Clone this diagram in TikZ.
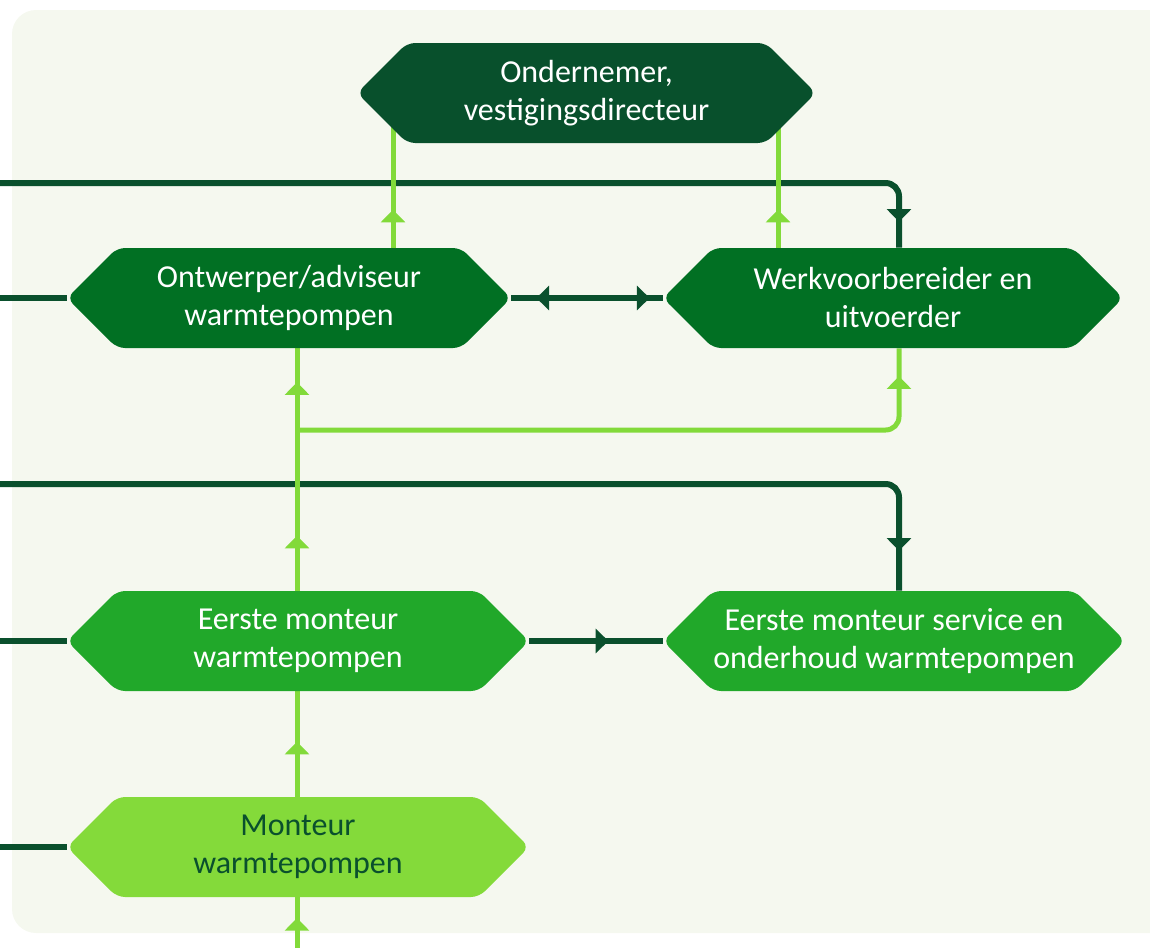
\documentclass[tikz,border=0pt]{standalone}
\usepackage{fontspec}
\setmainfont{Carlito}
\usetikzlibrary{shapes.symbols,arrows.meta,decorations.markings}

\definecolor{panelbg}{RGB}{245,248,239}
\definecolor{boxtop}{RGB}{8,80,44}
\definecolor{boxmid}{RGB}{1,112,35}
\definecolor{boxgreen}{RGB}{33,168,42}
\definecolor{boxlight}{RGB}{132,218,58}
\definecolor{lndark}{RGB}{10,80,45}
\definecolor{lnlight}{RGB}{130,218,58}

\pgfdeclarelayer{back}
\pgfdeclarelayer{lines}
\pgfsetlayers{back,lines,main}

\tikzset{
  hexbox/.style={signal, signal to=west and east, signal pointer angle=90,
    minimum height=75pt, inner sep=0pt, rounded corners=6pt, align=center,
    text=white, font=\fontsize{24}{28.5}\selectfont},
  darkln/.style={draw=lndark, line width=4.5pt},
  lightln/.style={draw=lnlight, line width=3.75pt},
  tipat/.style={postaction={decorate,decoration={markings,
    mark=at position #1 with {\arrow{Triangle[length=9.5pt,width=18pt]}}}}},
  backat/.style={postaction={decorate,decoration={markings,
    mark=at position #1 with {\arrowreversed{Triangle[length=9.5pt,width=18pt]}}}}},
}

\begin{document}
\begin{tikzpicture}[x=0.75pt,y=-0.75pt]
\useasboundingbox (0,0) rectangle (1150,947);

% panel
\begin{pgfonlayer}{back}
\fill[panelbg, rounded corners=18pt] (12,10) rectangle (1190,933);
\end{pgfonlayer}

% roles
\node[hexbox, fill=boxtop, minimum width=344pt] (ond) at (586.5,93) {Ondernemer,\\vestigingsdirecteur};
\node[hexbox, fill=boxmid, minimum width=333pt] (ont) at (289,298) {Ontwerper/adviseur\\warmtepompen};
\node[hexbox, fill=boxmid, minimum width=345pt] (wv) at (893,298) {Werkvoorbereider en\\uitvoerder};
\node[hexbox, fill=boxgreen, minimum width=346.5pt] (em) at (298,641) {Eerste monteur\\warmtepompen};
\node[hexbox, fill=boxgreen, minimum width=346.5pt] (ems) at (894,641) {Eerste monteur service en\\onderhoud warmtepompen};
\node[hexbox, fill=boxlight, text=lndark, minimum width=346.5pt] (mon) at (298,847) {Monteur\\warmtepompen};

% columns, rows and loose ends
\coordinate (cA) at (393,0);
\coordinate (cB) at (778,0);
\coordinate (cT) at (297,0);
\coordinate (cR) at (899,0);
\coordinate (r2) at (0,430);
\coordinate (in1) at (-10,183);
\coordinate (in2) at (-10,298);
\coordinate (in3) at (-10,484);
\coordinate (in4) at (-10,641);
\coordinate (in5) at (-10,847);
\coordinate (in6) at (297,960);

\begin{pgfonlayer}{lines}
% dark feeds
\draw[darkln, rounded corners=10pt, tipat=-19.5pt] (in1) -| (wv.north -| cR);
\draw[darkln] (in2) -- (ont.west);
\draw[darkln, rounded corners=10pt, tipat=-30pt] (in3) -| (ems.north -| cR);
\draw[darkln] (in4) -- (em.west);
\draw[darkln] (in5) -- (mon.west);
\draw[darkln, backat=18.75pt, tipat=-9.75pt] (ont.east) -- (wv.west);
\draw[darkln, tipat=59.25pt] (em.east) -- (ems.west);

% light climbs
\draw[lightln, tipat=28.5pt] (ont.north -| cA) -- (ond -| cA);
\draw[lightln, tipat=28.5pt] (wv.north -| cB) -- (ond -| cB);
\draw[lightln, tipat=31.5pt] (in6) -- (mon.south -| cT);
\draw[lightln, tipat=41.25pt] (mon.north -| cT) -- (em.south -| cT);
\draw[lightln, tipat=41.25pt, tipat=-25.5pt] (em.north -| cT) -- (ont.south -| cT);
\draw[lightln, rounded corners=10pt, tipat=-21pt] (cT |- r2) -| (wv.south -| cR);
\end{pgfonlayer}

\end{tikzpicture}
\end{document}
